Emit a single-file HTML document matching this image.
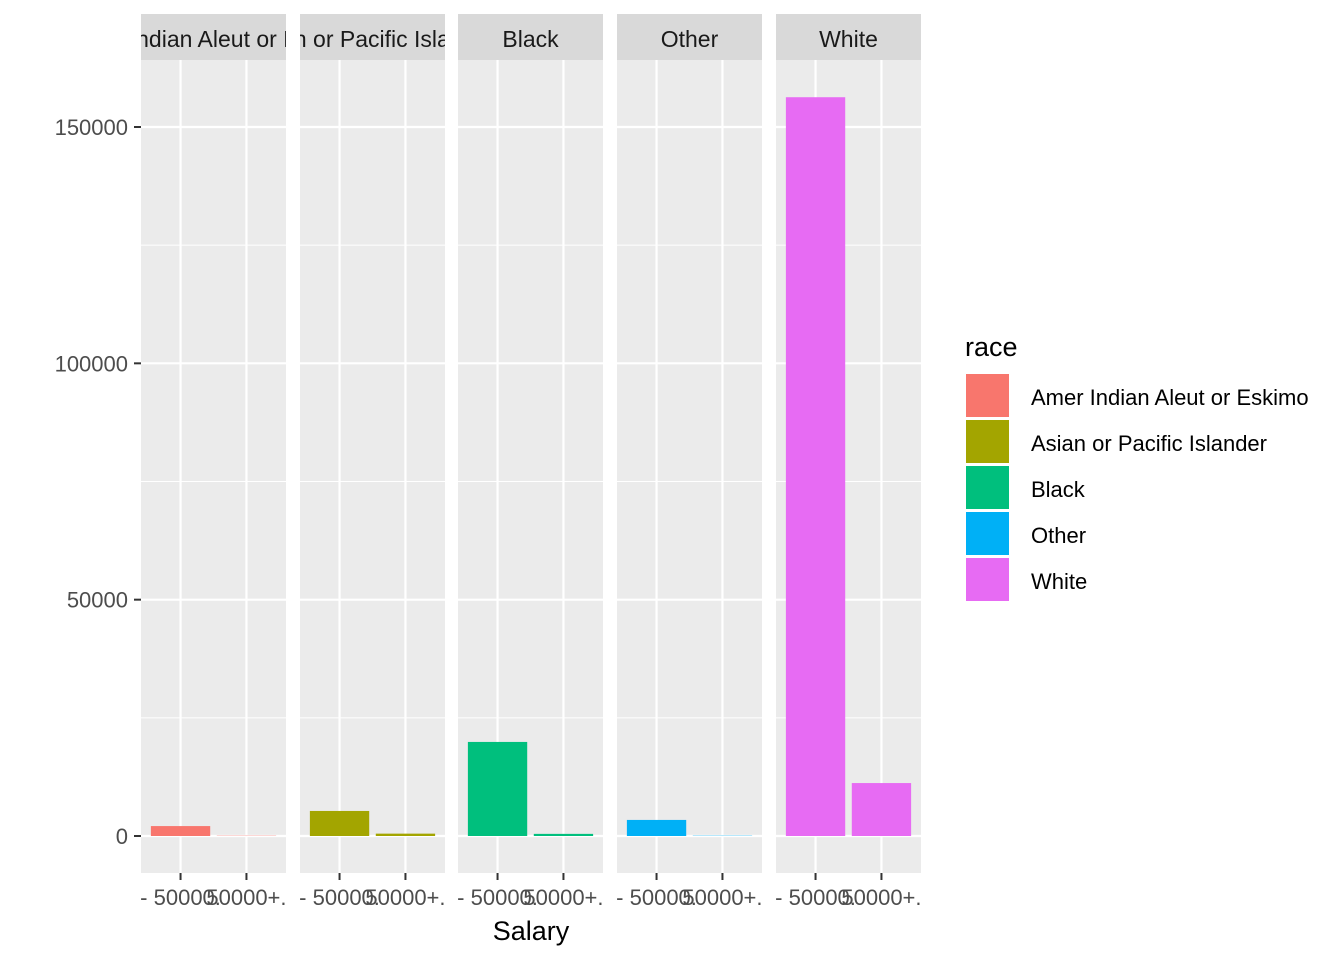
<!DOCTYPE html>
<html><head><meta charset="utf-8"><style>
body{margin:0;background:#fff;}
svg text{font-family:"Liberation Sans",Arial,sans-serif;}
</style></head><body>
<svg width="1344" height="960" xmlns="http://www.w3.org/2000/svg">
<defs id="defs"></defs>
<g id="panels"></g>
<g id="yaxis"></g>
<text x="531" y="940" font-size="27" text-anchor="middle" fill="#000">Salary</text>
<g id="legend"></g>
</svg>
<script>
const races = ["Amer Indian Aleut or Eskimo","Asian or Pacific Islander","Black","Other","White"];
const salaryCats = ["- 50000.","50000+."];
const under50k = [2100, 5300, 19900, 3400, 156300];
const over50k = [60, 500, 450, 60, 11200];
const colors = ["#F8766D","#A3A500","#00BF7D","#00B0F6","#E76BF3"];
const yTicks = [0, 50000, 100000, 150000];
const yMinor = [25000, 75000, 125000];

const NS="http://www.w3.org/2000/svg";
function mk(tag, attrs, parent){const e=document.createElementNS(NS,tag);for(const k in attrs)e.setAttribute(k,attrs[k]);parent.appendChild(e);return e;}
const panelX=[141,300,458,617,776], panelW=145, pTop=60, pBottom=873;
const y0=836, y150=127;
function yScale(v){return y0 - v*(y0-y150)/150000;}
function xScale(i,px){return px + panelW*(0.6+i)/2.2;}
const bw = panelW*0.9/2.2;
const panels=document.getElementById('panels');
const defs=document.getElementById('defs');
races.forEach((r,p)=>{
  const px=panelX[p];
  const g=mk('g',{},panels);
  
  
  mk('rect',{x:px,y:pTop,width:panelW,height:pBottom-pTop,fill:'#EBEBEB'},g);
  yMinor.forEach(v=>mk('line',{x1:px,x2:px+panelW,y1:yScale(v),y2:yScale(v),stroke:'#fff','stroke-width':1},g));
  yTicks.forEach(v=>mk('line',{x1:px,x2:px+panelW,y1:yScale(v),y2:yScale(v),stroke:'#fff','stroke-width':2.2},g));
  salaryCats.forEach((c,i)=>{
    const cx=xScale(i,px);
    mk('line',{x1:cx,x2:cx,y1:pTop,y2:pBottom,stroke:'#fff','stroke-width':2.2},g);
    mk('line',{x1:cx,x2:cx,y1:pBottom,y2:pBottom+7,stroke:'#333','stroke-width':2},g);
    const t=mk('text',{x:cx,y:905,'font-size':22,fill:'#4D4D4D','text-anchor':'middle'},g);
    t.textContent=c;
    
    
  });
  [under50k[p],over50k[p]].forEach((v,i)=>{
    const cx=xScale(i,px);
    const b=mk('rect',{x:cx-bw/2,y:yScale(v),width:bw,height:y0-yScale(v),fill:colors[p]},g);
    
    
  });
  const cp=mk('clipPath',{id:'cp'+p},defs);
  mk('rect',{x:px,y:14,width:panelW,height:46},cp);
  const s=mk('rect',{x:px,y:14,width:panelW,height:46,fill:'#D9D9D9'},g);
  
  
  const st=mk('text',{x:px+panelW/2,y:47,'font-size':23,fill:'#1A1A1A','text-anchor':'middle','clip-path':'url(#cp'+p+')'},g);
  st.textContent=r;
  
  
});
const ya=document.getElementById('yaxis');
yTicks.forEach(v=>{
  mk('line',{x1:134,x2:141,y1:yScale(v),y2:yScale(v),stroke:'#333','stroke-width':2},ya);
  const t=mk('text',{x:128,y:yScale(v)+8,'font-size':22,fill:'#4D4D4D','text-anchor':'end'},ya);
  t.textContent=v;
  
  
});
const lg=document.getElementById('legend');
const lt=mk('text',{x:965,y:356,'font-size':27,fill:'#000'},lg);
lt.textContent='race';


races.forEach((r,i)=>{
  const y=374+i*46;
  const k=mk('rect',{x:966,y:y,width:43,height:43,fill:colors[i]},lg);
  
  
  const t=mk('text',{x:1031,y:y+31,'font-size':22,fill:'#000'},lg);
  t.textContent=r;
  
  
});
</script>
</body></html>
